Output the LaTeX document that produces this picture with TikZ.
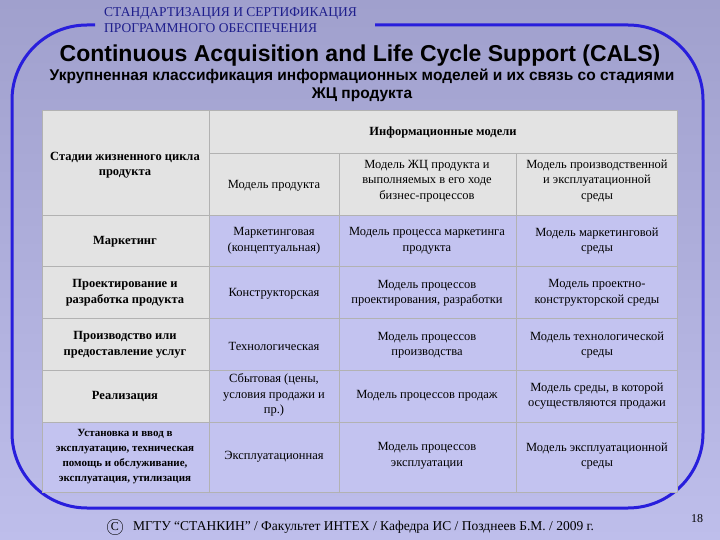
\documentclass[tikz,border=0pt]{standalone}
\usepackage{fontspec}
\setmainfont{Liberation Serif}
\newfontfamily\hd{Liberation Sans}
\begin{document}
\begin{tikzpicture}[x=1pt,y=-1pt,
  cell/.style={draw=gray!60,line width=0.6pt},
  gcell/.style={cell,fill=gray!22},
  bcell/.style={cell,fill=lav},
  txt/.style={align=center,font=\fontsize{12.5}{15.5}\selectfont,inner sep=0pt},
  btxt/.style={txt,font=\bfseries\fontsize{12.5}{15.5}\selectfont}]
\definecolor{bgtop}{RGB}{160,160,205}
\definecolor{bgbot}{RGB}{190,190,235}
\definecolor{lav}{RGB}{195,195,240}
\definecolor{frameblue}{RGB}{40,30,220}
\definecolor{hdblue}{RGB}{30,30,140}
\shade[top color=bgtop,bottom color=bgbot] (0,0) rectangle (720,540);
\useasboundingbox (0,0) rectangle (720,540);
\draw[frameblue,line width=3pt,rounded corners=75pt] (95,25) -- (12,25) -- (12,508) -- (703,508) -- (703,25) -- (375,25);
\node[anchor=west,text=hdblue,font=\fontsize{13.5}{16}\selectfont,align=left,inner sep=0pt] (h1) at (104,20) {СТАНДАРТИЗАЦИЯ И СЕРТИФИКАЦИЯ\\ПРОГРАММНОГО ОБЕСПЕЧЕНИЯ};
\node[font=\hd\bfseries\fontsize{23}{25}\selectfont,inner sep=0pt] (t1) at (360,56) {Continuous Acquisition and Life Cycle Support (CALS)};
\node[font=\hd\bfseries\fontsize{15.5}{18}\selectfont,align=center,inner sep=0pt] (t2) at (362,85) {Укрупненная классификация информационных моделей и их связь со стадиями\\ЖЦ продукта};
% table
\def\xa{42}\def\xb{209}\def\xc{339}\def\xd{516}\def\xe{677}
\fill[lav] (\xb,215) rectangle (\xe,492);
\path[gcell] (\xa,110) rectangle (\xb,215);
\path[gcell] (\xb,110) rectangle (\xe,153);
\path[gcell] (\xb,153) rectangle (\xc,215);
\path[gcell] (\xc,153) rectangle (\xd,215);
\path[gcell] (\xd,153) rectangle (\xe,215);
\foreach \ya/\yb in {215/266,266/318,318/370,370/422}{
  \path[gcell] (\xa,\ya) rectangle (\xb,\yb);
  \path[cell] (\xb,\ya) rectangle (\xc,\yb);
  \path[cell] (\xc,\ya) rectangle (\xd,\yb);
  \path[cell] (\xd,\ya) rectangle (\xe,\yb);}
\path[bcell] (\xa,422) rectangle (\xb,492);
\path[cell] (\xb,422) rectangle (\xc,492);
\path[cell] (\xc,422) rectangle (\xd,492);
\path[cell] (\xd,422) rectangle (\xe,492);
\node[btxt] (c00) at (125,165) {Стадии жизненного цикла\\продукта};
\node[btxt] (c0) at (443,132) {Информационные модели};
\node[txt] (c1) at (274,186) {Модель продукта};
\node[txt] (c2) at (427,181) {Модель ЖЦ продукта и\\выполняемых в его ходе\\бизнес-процессов};
\node[txt] (c3) at (597,181) {Модель производственной\\и эксплуатационной\\среды};
\node[btxt] (r1) at (125,242) {Маркетинг};
\node[txt] (r1a) at (274,241) {Маркетинговая\\(концептуальная)};
\node[txt] (r1b) at (427,241) {Модель процесса маркетинга\\продукта};
\node[txt] (r1c) at (597,241) {Модель маркетинговой\\среды};
\node[btxt] (r2) at (125,293) {Проектирование и\\разработка продукта};
\node[txt] (r2a) at (274,294) {Конструкторская};
\node[txt] (r2b) at (427,293) {Модель процессов\\проектирования, разработки};
\node[txt] (r2c) at (597,293) {Модель проектно-\\конструкторской среды};
\node[btxt] (r3) at (125,345) {Производство или\\предоставление услуг};
\node[txt] (r3a) at (274,346) {Технологическая};
\node[txt] (r3b) at (427,345) {Модель процессов\\производства};
\node[txt] (r3c) at (597,345) {Модель технологической\\среды};
\node[btxt] (r4) at (125,396) {Реализация};
\node[txt] (r4a) at (274,395) {Сбытовая (цены,\\условия продажи и\\пр.)};
\node[txt] (r4b) at (427,396) {Модель процессов продаж};
\node[txt] (r4c) at (597,396) {Модель среды, в которой\\осуществляются продажи};
\node[txt,font=\bfseries\fontsize{11}{15}\selectfont] (r5) at (125,457) {Установка и ввод в\\эксплуатацию, техническая\\помощь и обслуживание,\\эксплуатация, утилизация};
\node[txt] (r5a) at (274,457) {Эксплуатационная};
\node[txt] (r5b) at (427,456) {Модель процессов\\эксплуатации};
\node[txt] (r5c) at (597,456) {Модель эксплуатационной\\среды};
\node[draw,circle,inner sep=1.5pt,font=\fontsize{12}{13}\selectfont] (cp) at (115,527) {C};
\node[anchor=west,inner sep=0pt,font=\fontsize{13.5}{15}\selectfont] (ft) at (133,527) {МГТУ “СТАНКИН” / Факультет ИНТЕХ / Кафедра ИС / Позднеев Б.М. / 2009 г.};
\node[font=\fontsize{12}{13}\selectfont,inner sep=0pt] (pg) at (697,519) {18};
\end{tikzpicture}
\end{document}
